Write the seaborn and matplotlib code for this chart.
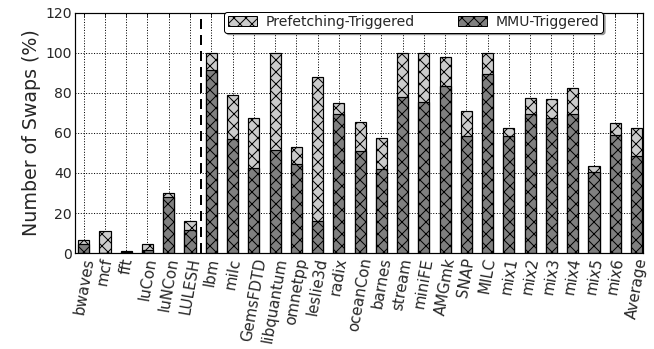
import numpy as np
import pandas as pd
import matplotlib
matplotlib.use("Agg")
import matplotlib.pyplot as plt
import seaborn as sns
from matplotlib.patches import Patch

# benchmark names
benchmarks = ["bwaves", "mcf", "fft", "luCon", "luNCon", "LULESH", "lbm", "milc",
              "GemsFDTD", "libquantum", "omnetpp", "leslie3d", "radix", "oceanCon",
              "barnes", "stream", "miniFE", "AMGmk", "SNAP", "MILC", "mix1", "mix2",
              "mix3", "mix4", "mix5", "mix6", "Average"]
# total swaps (%) = MMU + prefetching
total_swaps = [6.5, 11, 1, 4.5, 30, 16, 100, 79, 67.5, 100, 53, 88, 75, 65.7,
               57.5, 100, 100, 98.2, 71, 100, 62.7, 77.3, 76.8, 82.6, 43.6, 65.2, 62.7]
# MMU-triggered swaps (%)
mmu_swaps = [4.5, 0, 0.5, 1.5, 28, 11.5, 91.5, 57, 42.5, 51.5, 44.5, 16, 69.4, 51.2,
             42, 78.1, 75.5, 83.3, 58.6, 89.6, 58.6, 69.7, 67.4, 69.4, 40.4, 59, 48.3]

df = pd.DataFrame({"bench": benchmarks, "total": total_swaps, "mmu": mmu_swaps})

sns.set_style("white")
plt.rcParams["font.family"] = ["DejaVu Sans"]
plt.rcParams["hatch.linewidth"] = 1.0

light = "#cccccc"
dark = "#808080"

fig = plt.figure(figsize=(654 / 72, 349 / 72), dpi=72)
ax = fig.add_axes([0.115, 0.275, 0.868, 0.688])

sns.barplot(data=df, x="bench", y="total", color=light, edgecolor="black",
            linewidth=1.2, width=0.52, saturation=1, ax=ax)
sns.barplot(data=df, x="bench", y="mmu", color=dark, edgecolor="black",
            linewidth=1.2, width=0.52, saturation=1, ax=ax)
for p in ax.patches:
    p.set_hatch("xx")

ax.axvline(5.5, color="black", lw=2, dashes=(5, 3))

ax.set_xlim(-0.4, 26.3)
ax.set_ylim(0, 120)
ax.set_yticks(range(0, 121, 20))
ax.set_xlabel("")
ax.set_ylabel("Number of Swaps (%)", fontsize=19)
ax.set_xticks(range(len(benchmarks)))
ax.set_xticklabels(benchmarks, rotation=80, fontsize=15)
ax.tick_params(axis="y", labelsize=14)
ax.tick_params(direction="in", top=True, right=True, length=4, color="black")
ax.grid(True, color="black", linestyle=":", linewidth=1)
ax.set_axisbelow(True)
for s in ax.spines.values():
    s.set_color("black")
    s.set_linewidth(1.2)

handles = [Patch(facecolor=light, edgecolor="black", hatch="xx", label="Prefetching-Triggered"),
           Patch(facecolor=dark, edgecolor="black", hatch="xx", label="MMU-Triggered")]
leg = ax.legend(handles=handles, ncol=2, loc="upper right", bbox_to_anchor=(0.93, 1.005),
                fontsize=14, shadow=True, fancybox=True, framealpha=1,
                edgecolor="black", columnspacing=3.1, handlelength=2.1,
                handletextpad=0.6, borderpad=0.25, borderaxespad=0)

fig.savefig("out.png", dpi=72)
